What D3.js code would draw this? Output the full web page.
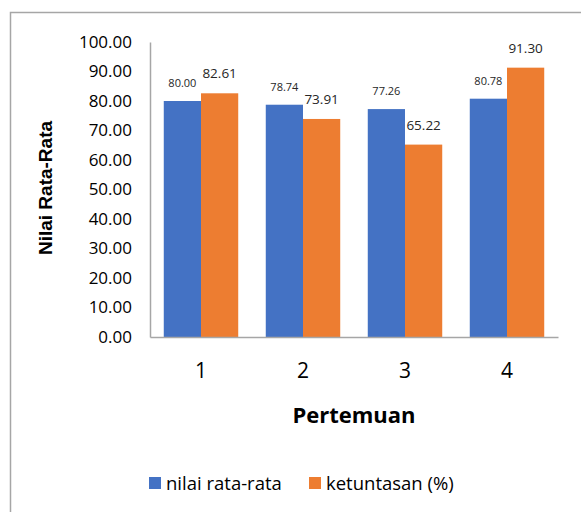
<!DOCTYPE html>
<html><head><meta charset="utf-8">
<script src="https://cdn.jsdelivr.net/npm/d3@7"></script>
<style>body{margin:0;background:#fff}svg{display:block}</style>
</head><body>
<script>
const categories = ["1","2","3","4"];
const seriesNames = ["nilai rata-rata","ketuntasan (%)"];
const nilaiRataRata = [80.00, 78.74, 77.26, 80.78];
const ketuntasan = [82.61, 73.91, 65.22, 91.30];
const yTicks = [0,10,20,30,40,50,60,70,80,90,100];
const colors = ["#4472C4","#ED7D31"];

const W=581,H=512;
const font = "'Open Sans', sans-serif";
const svg = d3.select("body").append("svg").attr("width",W).attr("height",H);
svg.append("rect").attr("x",10.5).attr("y",12.5).attr("width",W).attr("height",H)
  .attr("fill","#fff").attr("stroke","#a6a6a6").attr("stroke-width",1.5);

const m={left:150,right:558,top:42,bottom:337};
const x = d3.scaleBand().domain(categories).range([m.left,m.right]).paddingInner(0.27).paddingOuter(0.135);
const xs = d3.scaleBand().domain(seriesNames).range([0,x.bandwidth()]);
const y = d3.scaleLinear().domain([0,100]).range([m.bottom,m.top]);

const data = categories.map((c,i)=>({c, vals:[nilaiRataRata[i], ketuntasan[i]]}));
const g = svg.append("g");
data.forEach(d=>{
  d.vals.forEach((v,j)=>{
    g.append("rect").attr("x",x(d.c)+xs(seriesNames[j])).attr("y",y(v))
      .attr("width",xs.bandwidth()).attr("height",y(0)-y(v)).attr("fill",colors[j]);
    g.append("text").attr("x",x(d.c)+xs(seriesNames[j])+xs.bandwidth()/2).attr("y",y(v)-(j===0?14:15))
      .attr("text-anchor","middle").attr("font-family",font)
      .attr("font-size", j===0?11:13.5).attr("fill","#262626").text(v.toFixed(2));
  });
});

const ya = svg.append("g").attr("transform",`translate(${m.left},0)`)
  .call(d3.axisLeft(y).tickValues(yTicks).tickFormat(d=>d.toFixed(2)).tickSize(0).tickPadding(18));
ya.select(".domain").attr("stroke","#a6a6a6").attr("stroke-width",1.5);
ya.selectAll("text").attr("font-family",font).attr("font-size",17).attr("fill","#000");

const xa = svg.append("g").attr("transform",`translate(0,${m.bottom})`)
  .call(d3.axisBottom(x).tickSize(0).tickPadding(26));
xa.select(".domain").attr("stroke","#a6a6a6").attr("stroke-width",1.5);
xa.selectAll("text").attr("font-family",font).attr("font-size",21).attr("fill","#000");

svg.append("text").attr("x",354).attr("y",423).attr("text-anchor","middle")
  .attr("font-family",font).attr("font-weight","bold").attr("font-size",22).text("Pertemuan");
svg.append("text").attr("transform","translate(52,188) rotate(-90)").attr("text-anchor","middle")
  .attr("font-family","'Liberation Sans', Arial, sans-serif").attr("font-weight","bold").attr("font-size",19).text("Nilai Rata-Rata");

const legX=[149,309];
seriesNames.forEach((s,j)=>{
  svg.append("rect").attr("x",legX[j]).attr("y",477).attr("width",12).attr("height",12).attr("fill",colors[j]);
  svg.append("text").attr("x",legX[j]+17).attr("y",490).attr("font-family",font).attr("font-size",18.5).attr("fill","#000").text(s);
});
</script>
</body></html>
